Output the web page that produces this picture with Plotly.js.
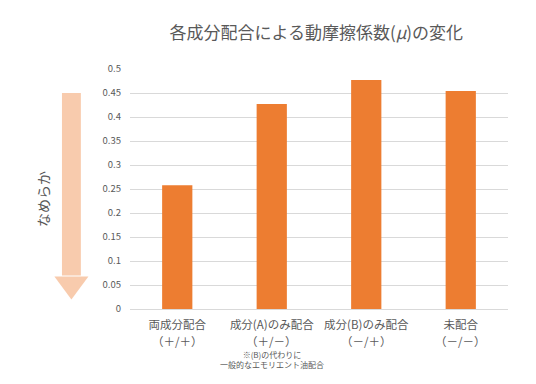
<!DOCTYPE html>
<html><head><meta charset="utf-8">
<script src="https://cdn.plot.ly/plotly-3.0.1.min.js"></script>
<style>html,body{margin:0;padding:0;background:#fff}#chart{width:536px;height:384px}</style>
</head><body><div id="chart"></div>
<script>
const categories = ["両成分配合", "成分(A)のみ配合", "成分(B)のみ配合", "未配合"];
const signs = ["（＋/＋）", "（＋/－）", "（－/＋）", "（－/－）"];
const values = [0.258, 0.427, 0.477, 0.454];
const titleText = "各成分配合による動摩擦係数(<i>μ</i>)の変化";
const arrowLabel = "なめらか";
const noteText = "※(B)の代わりに<br>一般的なエモリエント油配合";

const FONT = "'Noto Sans CJK JP', 'Noto Sans', sans-serif";
const GREY = "#595959";
const ARROW = "#f8cbad";

const trace = {
  type: "bar", x: categories, y: values,
  marker: {color: "#ed7d31"}, hoverinfo: "none"
};

const signAnnotations = categories.map((c, i) => ({
  text: signs[i], xref: "x", yref: "paper", x: c, y: -0.135, yanchor: "middle",
  showarrow: false, font: {size: 11.5, color: GREY, family: FONT}
}));

const layout = {
  width: 536, height: 384,
  margin: {l: 130, r: 28, t: 69, b: 75},
  paper_bgcolor: "#fff", plot_bgcolor: "#fff",
  font: {family: FONT, color: GREY},
  showlegend: false,
  bargap: 0.68,
  title: {text: titleText, font: {size: 17, color: GREY, family: FONT}, x: 0.59, xanchor: "center", y: 0.915, yanchor: "middle"},
  xaxis: {type: "category", tickfont: {size: 11.5, color: GREY}, showline: false, showgrid: false, ticks: "",
          tickangle: 0, ticklabelstandoff: 7, fixedrange: true},
  yaxis: {range: [0, 0.5], dtick: 0.05, tick0: 0, showgrid: true, gridcolor: "#d9d9d9", gridwidth: 1,
          zeroline: true, zerolinecolor: "#d9d9d9", zerolinewidth: 1,
          tickfont: {size: 9.5, color: GREY}, ticks: "", ticklabelstandoff: 8, fixedrange: true},
  shapes: [
    {type: "rect", xref: "paper", yref: "paper", x0: -0.18, x1: -0.13, y0: 0.14, y1: 0.9,
     fillcolor: ARROW, line: {width: 0}},
    {type: "path", xref: "paper", yref: "paper",
     path: "M -0.2 0.135 L -0.11 0.135 L -0.155 0.04 Z",
     fillcolor: ARROW, line: {width: 0}}
  ],
  annotations: [
    {text: arrowLabel, xref: "paper", yref: "paper", x: -0.232, y: 0.46, textangle: -90,
     showarrow: false, font: {size: 14, color: GREY, family: FONT}, xanchor: "center", yanchor: "middle"},
    {text: noteText, xref: "x", yref: "paper", x: categories[1], y: -0.158, yanchor: "top",
     showarrow: false, font: {size: 8, color: GREY, family: FONT}, align: "center"}
  ].concat(signAnnotations)
};

Plotly.newPlot("chart", [trace], layout, {displayModeBar: false, staticPlot: true});
</script></body></html>
